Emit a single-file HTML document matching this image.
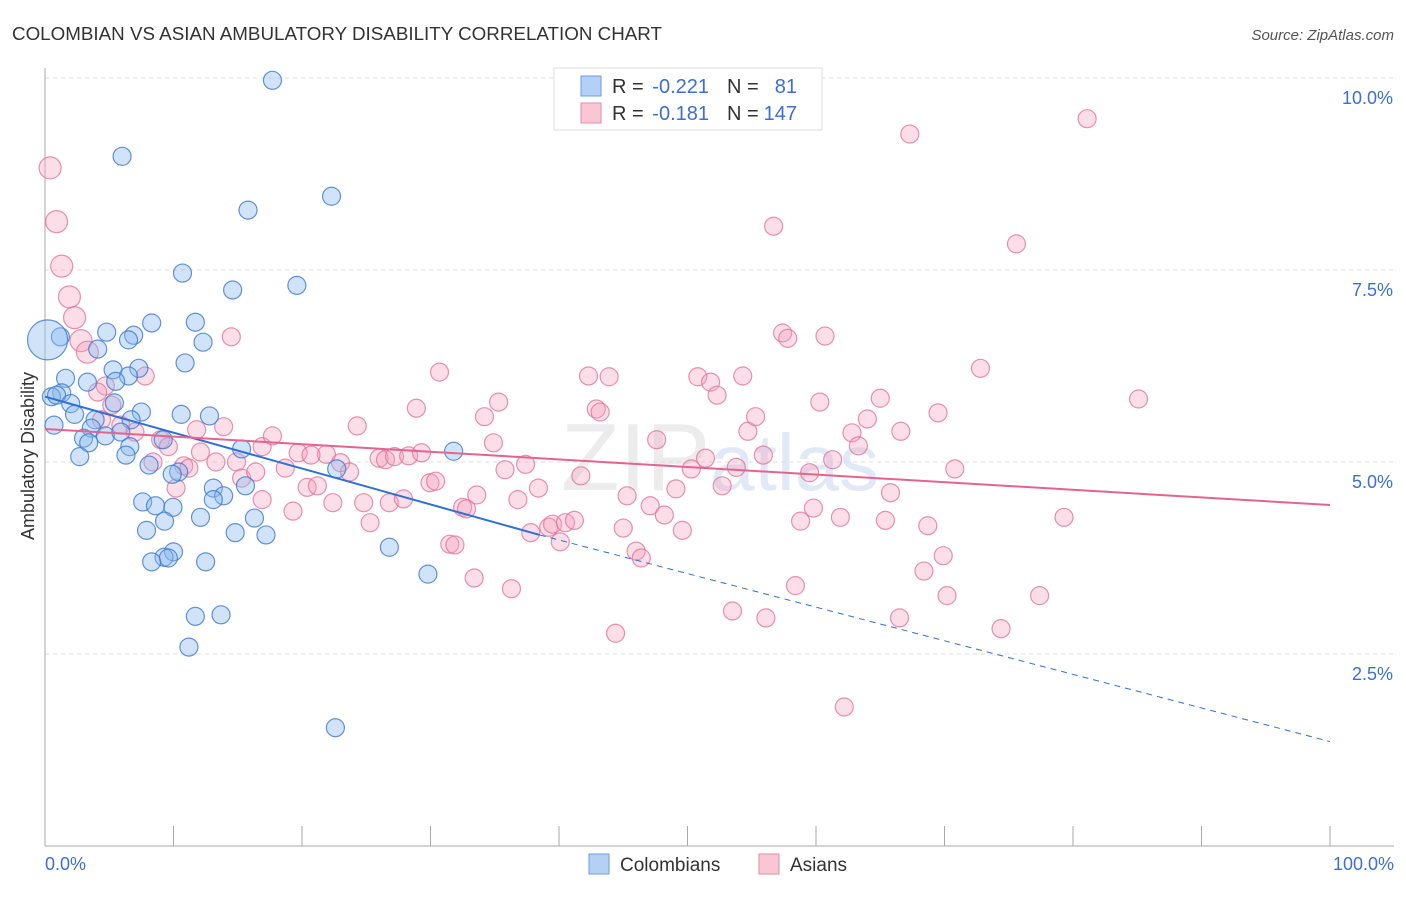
<!DOCTYPE html>
<html><head><meta charset="utf-8"><style>
body{margin:0;background:#fff;font-family:"Liberation Sans",sans-serif;}
svg text{font-family:"Liberation Sans",sans-serif;}
</style></head><body>
<svg id="chart" width="1406" height="892" xmlns="http://www.w3.org/2000/svg">
<text x="12" y="40" font-size="18" fill="#333" textLength="650" lengthAdjust="spacingAndGlyphs">COLOMBIAN VS ASIAN AMBULATORY DISABILITY CORRELATION CHART</text>
<text x="1394" y="40" font-size="15" fill="#555" font-style="italic" text-anchor="end">Source: ZipAtlas.com</text>
<text x="720" y="490" font-size="96" fill="#ececec" text-anchor="middle" font-family="Liberation Serif">ZIP<tspan fill="#e0e9f5" font-family="Liberation Sans" font-size="80">atlas</tspan></text>
<g id="grid"></g>
<g id="axes"></g>
<g id="pts"></g>
<g id="lines"></g>
<text transform="translate(34,456) rotate(-90)" font-size="18" fill="#333" text-anchor="middle">Ambulatory Disability</text>
<text x="45" y="870" font-size="18" fill="#3b6fd4">0.0%</text>
<text x="1394" y="870" font-size="18" fill="#3b6fd4" text-anchor="end">100.0%</text>
<g>
<rect x="554" y="68" width="268" height="62" fill="#fff" stroke="#ddd"/>
<rect x="581" y="76" width="20" height="20" fill="#b4d0f4" stroke="#6b9be0"/>
<rect x="581" y="103" width="20" height="20" fill="#f9c6d4" stroke="#e88aa6"/>
<text x="612" y="93" font-size="20" fill="#333">R =</text>
<text x="709" y="93" font-size="20" fill="#3b6fd4" text-anchor="end">-0.221</text>
<text x="727" y="93" font-size="20" fill="#333">N =</text>
<text x="797" y="93" font-size="20" fill="#3b6fd4" text-anchor="end">81</text>
<text x="612" y="120" font-size="20" fill="#333">R =</text>
<text x="709" y="120" font-size="20" fill="#3b6fd4" text-anchor="end">-0.181</text>
<text x="727" y="120" font-size="20" fill="#333">N =</text>
<text x="797" y="120" font-size="20" fill="#3b6fd4" text-anchor="end">147</text>
</g>
<g>
<rect x="589" y="854" width="20" height="20" fill="#b4d0f4" stroke="#6b9be0"/>
<text x="620" y="871" font-size="19" fill="#333">Colombians</text>
<rect x="759" y="854" width="20" height="20" fill="#f9c6d4" stroke="#e88aa6"/>
<text x="790" y="871" font-size="19" fill="#333">Asians</text>
</g>
</svg>
<script>
const yTicks=[2.5,5.0,7.5,10.0];
const blueX=[17.7,6.0,15.8,22.3,10.7,14.6,19.6,8.3,11.7,4.8,6.9,12.3,6.5,4.1,1.2,0.2,10.9,5.3,7.3,6.5,1.6,3.3,5.5,1.3,0.5,0.9,2.0,2.3,7.5,10.6,12.8,5.4,3.9,3.6,6.7,0.7,3.0,4.7,5.9,3.4,6.6,6.3,2.7,9.2,15.3,31.8,8.1,10.4,9.9,15.6,22.7,13.1,13.9,13.1,7.6,8.6,9.96,12.1,16.3,9.3,7.9,14.8,17.2,26.8,10.0,9.26,9.6,8.3,12.5,29.8,11.7,13.7,11.2,22.6];
const blueY=[9.97,8.98,8.28,8.46,7.46,7.24,7.30,6.81,6.82,6.69,6.65,6.56,6.59,6.47,6.63,6.59,6.29,6.20,6.22,6.12,6.09,6.04,6.05,5.90,5.85,5.87,5.76,5.62,5.65,5.62,5.60,5.77,5.55,5.44,5.55,5.48,5.31,5.34,5.39,5.25,5.20,5.09,5.07,5.29,5.17,5.14,4.96,4.87,4.84,4.69,4.91,4.66,4.56,4.51,4.48,4.43,4.41,4.28,4.27,4.23,4.11,4.08,4.05,3.89,3.83,3.76,3.75,3.70,3.70,3.54,2.99,3.01,2.59,1.54];
const blueBig=[15];
const pinkX=[0.4,0.9,1.3,1.9,2.3,2.8,3.3,14.5,7.8,4.7,4.1,5.2,5.9,7.0,4.4,9.0,9.6,8.4,10.8,11.2,10.2,12.1,11.8,13.9,13.3,14.9,15.3,16.9,17.7,16.9,16.4,18.7,19.3,19.7,20.4,21.2,21.9,20.7,22.4,23.0,24.3,23.7,24.8,25.3,26.0,26.5,26.8,27.2,27.9,28.3,28.9,29.3,29.96,30.4,30.7,31.5,31.9,32.5,32.8,33.6,33.4,34.2,34.9,35.3,35.8,36.3,36.8,37.4,37.8,38.4,39.2,39.5,40.1,40.5,41.2,41.7,42.3,42.9,43.2,43.9,44.4,45.0,45.3,46.0,46.4,47.1,47.6,48.2,49.1,49.6,50.3,50.8,51.4,51.8,52.3,52.7,53.5,53.8,54.3,54.7,55.3,55.9,56.1,56.7,57.4,57.8,58.4,58.8,59.5,59.8,60.3,60.7,61.3,61.9,62.2,62.8,63.3,64.0,65.0,65.4,65.8,66.5,66.6,67.3,68.4,68.7,69.5,69.9,70.2,70.8,72.8,74.4,75.6,77.4,79.3,81.1,85.1];
const pinkY=[8.83,8.13,7.55,7.15,6.88,6.58,6.43,6.63,6.12,5.99,5.91,5.74,5.48,5.39,5.55,5.29,5.20,5.00,4.95,4.92,4.66,5.13,5.42,5.46,5.00,5.00,4.79,5.20,5.34,4.51,4.87,4.92,4.36,5.12,4.67,4.69,5.10,5.09,4.47,4.99,5.47,4.87,4.47,4.21,5.05,5.03,4.47,5.07,4.52,5.08,5.70,5.12,4.73,4.75,6.17,3.93,3.92,4.41,4.39,4.57,3.49,5.59,5.25,5.78,4.90,3.35,4.51,4.97,4.08,4.66,4.15,4.19,3.96,4.21,4.24,4.82,6.12,5.69,5.65,6.11,2.77,4.14,4.56,3.84,3.75,4.43,5.29,4.31,4.65,4.11,4.91,6.11,5.05,6.04,5.87,4.69,3.06,4.93,6.12,5.40,5.59,5.09,2.97,8.07,6.68,6.61,3.39,4.23,4.86,4.40,5.78,6.64,5.03,4.28,1.81,5.38,5.21,5.56,5.83,4.24,4.60,2.97,5.40,9.27,3.58,4.17,5.64,3.78,3.26,4.91,6.22,2.83,7.84,3.26,4.28,9.47,5.82];
const blueLine=[5.85,4.05,1.36];const blueLineX=[0,38.5,100];
const pinkLine=[5.43,4.44];
const NS='http://www.w3.org/2000/svg';
const X=v=>45+v*12.85, Y=v=>846-v*76.8;
function mk(t,a,p){const e=document.createElementNS(NS,t);for(const k in a)e.setAttribute(k,a[k]);p.appendChild(e);return e;}
const grid=document.getElementById('grid'),axes=document.getElementById('axes'),pts=document.getElementById('pts'),lines=document.getElementById('lines');
yTicks.forEach(t=>{
 const l=mk('line',{x1:45,x2:1394,y1:Y(t),y2:Y(t),stroke:'#ddd','stroke-dasharray':'4,4'},grid);
 
 
 const tx=mk('text',{x:1393,y:Y(t)+26,'font-size':18,fill:'#3b6fd4','text-anchor':'end'},grid);
 tx.textContent=t.toFixed(1)+'%';
 
 
});
const ya=mk('line',{x1:45,x2:45,y1:68,y2:846,stroke:'#aaa'},axes);


const xa=mk('line',{x1:45,x2:1394,y1:846,y2:846,stroke:'#aaa'},axes);


for(let i=0;i<=10;i++){const t=mk('line',{x1:X(i*10),x2:X(i*10),y1:826,y2:846,stroke:'#aaa'},axes);
 
 }
pinkX.forEach((x,i)=>{const r=(i<7)?11:9;
 const c=mk('circle',{cx:X(x),cy:Y(pinkY[i]),r:r,fill:'rgba(244,160,188,0.35)',stroke:'rgba(226,110,150,0.75)','stroke-width':1.2},pts);
 
 });
blueX.forEach((x,i)=>{const r=blueBig.includes(i)?20:9;
 const c=mk('circle',{cx:X(x),cy:Y(blueY[i]),r:r,fill:'rgba(140,184,238,0.4)',stroke:'rgba(60,120,210,0.8)','stroke-width':1.2},pts);
 
 });
const b1=mk('line',{x1:X(blueLineX[0]),y1:Y(blueLine[0]),x2:X(blueLineX[1]),y2:Y(blueLine[1]),stroke:'#2f6fd8','stroke-width':2},lines);


const b2=mk('line',{x1:X(blueLineX[1]),y1:Y(blueLine[1]),x2:X(blueLineX[2]),y2:Y(blueLine[2]),stroke:'#2f6fd8','stroke-width':1,'stroke-dasharray':'6,5'},lines);


const p1=mk('line',{x1:X(0),y1:Y(pinkLine[0]),x2:X(100),y2:Y(pinkLine[1]),stroke:'#e4648e','stroke-width':2},lines);


</script>
</body></html>
